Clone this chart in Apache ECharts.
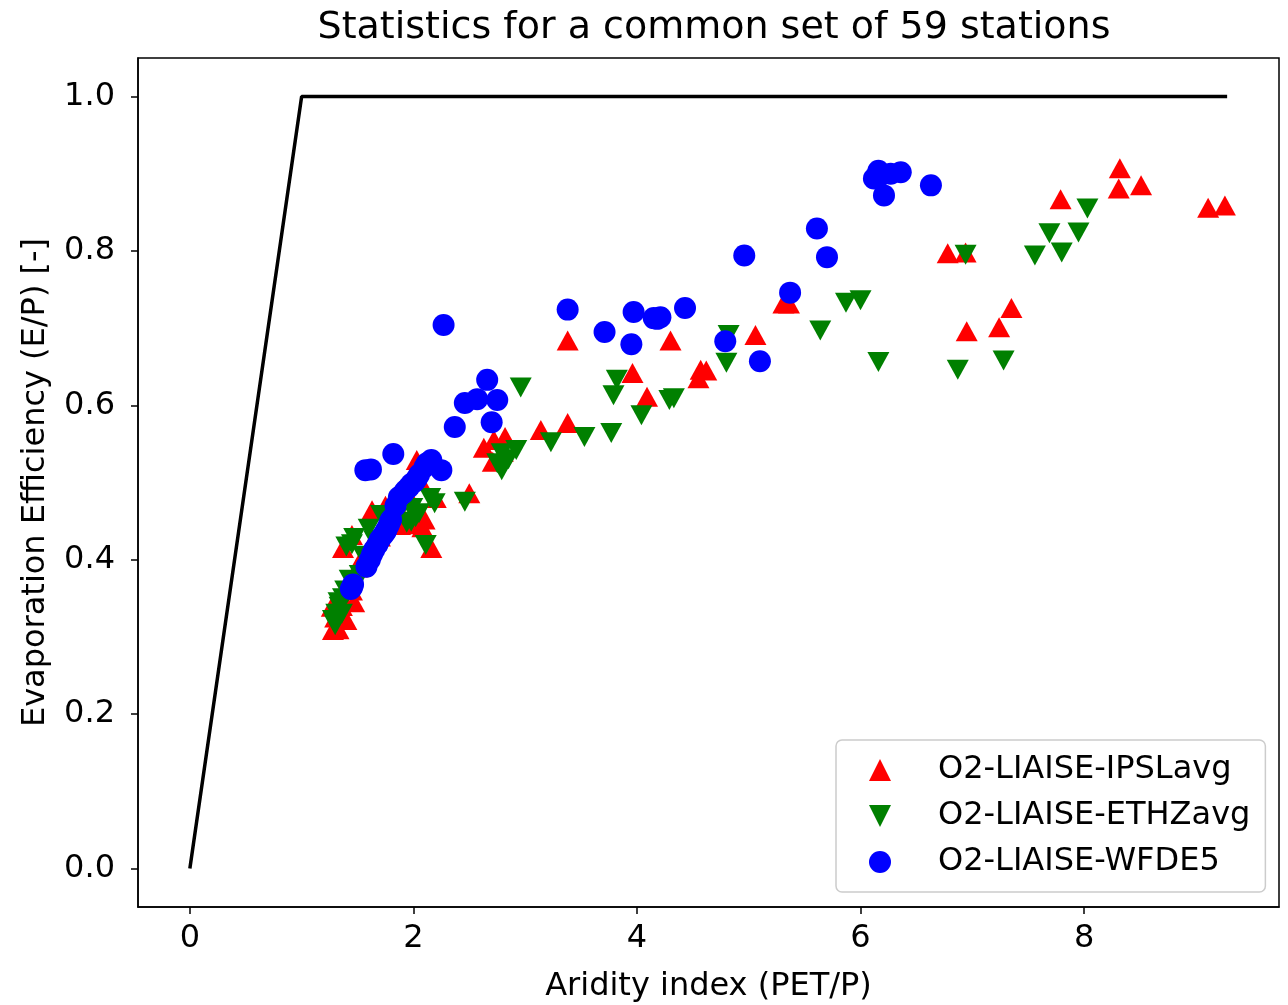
<!DOCTYPE html>
<html>
<head>
<meta charset="utf-8">
<script src="https://cdn.jsdelivr.net/npm/echarts@6/dist/echarts.min.js"></script>
<style>html,body{margin:0;padding:0;background:#fff}#c{width:1288px;height:1005px}</style>
</head>
<body>
<div id="c"></div>
<script>
const titleText = 'Statistics for a common set of 59 stations';
const xName = 'Aridity index (PET/P)';
const yName = 'Evaporation Efficiency (E/P) [-]';
const seriesNames = ['O2-LIAISE-IPSLavg', 'O2-LIAISE-ETHZavg', 'O2-LIAISE-WFDE5'];
const xTicks = [0, 2, 4, 6, 8];
const yTicks = [0, 0.2, 0.4, 0.6, 0.8, 1.0];
const limitLine = [[0, 0], [1, 1], [9.28, 1]];

const ipsl = [
  [9.26,0.859],[9.11,0.856],[8.32,0.907],[8.31,0.881],[8.51,0.885],[7.79,0.867],
  [6.78,0.797],[6.94,0.798],[6.95,0.696],[7.24,0.701],[7.35,0.726],[5.31,0.732],
  [5.36,0.732],[5.06,0.691],[4.62,0.645],[4.55,0.635],[4.30,0.684],[3.38,0.684],
  [3.96,0.642],[4.09,0.611],[3.38,0.577],[3.14,0.568],[2.63,0.545],[2.72,0.555],
  [2.82,0.559],[2.71,0.527],[2.50,0.486],[2.20,0.480],[2.03,0.529],[1.63,0.464],
  [2.08,0.442],[2.16,0.415],[1.84,0.473],[1.79,0.452],[1.45,0.432],[1.37,0.415],
  [1.27,0.339],[1.28,0.309],[1.40,0.322],[1.47,0.345],[1.33,0.310],[1.35,0.355],
  [1.42,0.370],[1.97,0.446],[1.88,0.445],[2.00,0.455],[1.70,0.430],[1.55,0.405],
  [1.60,0.415],[2.10,0.452],[1.75,0.470],[1.93,0.490],[2.05,0.505],[1.36,0.340],
  [1.30,0.325],[1.45,0.360],[4.57,0.646],[2.80,0.540],[1.50,0.390]
];
const ethz = [
  [6.94,0.795],[7.56,0.794],[7.69,0.823],[7.80,0.798],[7.95,0.824],[8.03,0.855],
  [6.87,0.646],[7.28,0.658],[5.64,0.697],[5.87,0.733],[6.00,0.736],[6.16,0.656],
  [4.80,0.655],[4.82,0.691],[3.82,0.633],[3.79,0.613],[4.04,0.587],[4.29,0.607],
  [4.33,0.609],[3.53,0.559],[3.77,0.564],[3.23,0.552],[2.96,0.623],[2.79,0.538],
  [2.92,0.542],[2.79,0.516],[2.46,0.475],[2.19,0.473],[1.99,0.467],[1.98,0.449],
  [2.02,0.455],[2.11,0.419],[1.71,0.458],[1.47,0.428],[1.40,0.417],[1.43,0.374],
  [1.41,0.357],[1.34,0.339],[1.28,0.322],[1.31,0.330],[1.49,0.370],[1.94,0.448],
  [1.37,0.350],[1.30,0.315],[1.52,0.380],[1.75,0.450],[1.85,0.455],[2.85,0.530],
  [2.75,0.525],[1.45,0.420],[1.60,0.440],[1.36,0.330],[1.80,0.448],[2.05,0.460],
  [1.65,0.425],[1.55,0.405],[1.33,0.345],[1.39,0.360],[2.15,0.480]
];
const wfde5 = [
  [6.16,0.904],[6.12,0.894],[6.27,0.900],[6.36,0.902],[6.21,0.872],[6.63,0.885],
  [5.61,0.829],[5.70,0.792],[4.96,0.794],[5.37,0.746],[4.79,0.683],[5.10,0.657],
  [3.38,0.724],[3.71,0.695],[3.97,0.721],[3.95,0.679],[4.15,0.713],[4.21,0.714],
  [4.43,0.726],[2.27,0.704],[2.66,0.633],[2.46,0.603],[2.57,0.608],[2.75,0.607],
  [2.70,0.578],[2.37,0.572],[1.57,0.516],[1.62,0.517],[1.82,0.537],[2.16,0.529],
  [2.25,0.516],[2.10,0.520],[2.05,0.510],[2.01,0.501],[1.96,0.494],[1.91,0.486],
  [1.87,0.481],[1.80,0.452],[1.78,0.445],[1.76,0.439],[1.73,0.432],[1.70,0.426],
  [1.65,0.413],[1.61,0.400],[1.58,0.391],[1.45,0.364],[1.46,0.368],[2.12,0.525],
  [1.98,0.498],[1.84,0.470],[1.68,0.420],[1.63,0.407],[1.79,0.449],[2.03,0.505],
  [1.93,0.490],[4.18,0.712],[6.18,0.898],[1.44,0.362],[1.75,0.436]
];

const FONT = 'DejaVu Sans';
const UP = 'path://M1,0 L2,2 L0,2 Z';
const DOWN = 'path://M0,0 L2,0 L1,2 Z';
const chart = echarts.init(document.getElementById('c'), null, {renderer: 'canvas'});
chart.setOption({
  animation: false,
  backgroundColor: '#fff',
  textStyle: {fontFamily: FONT},
  title: {
    text: titleText, left: 709, textAlign: 'center', top: 4,
    textStyle: {fontFamily: FONT, fontSize: 38, fontWeight: 'normal', color: '#000'}
  },
  grid: {left: 138, top: 58, width: 1141, height: 849, show: true, borderColor: '#000', borderWidth: 1.5, containLabel: false, outerBoundsMode: 'none'},
  xAxis: {
    type: 'value', min: -0.464, max: 9.744,
    name: xName, nameLocation: 'middle', nameGap: 64,
    nameTextStyle: {fontFamily: FONT, fontSize: 32, color: '#000'},
    axisLine: {show: true, onZero: false, lineStyle: {color: '#000', width: 1.5}},
    axisTick: {show: true, length: 7, lineStyle: {color: '#000', width: 1.5}, customValues: xTicks},
    axisLabel: {fontFamily: FONT, fontSize: 32, color: '#000', margin: 16, customValues: xTicks, formatter: v => String(Math.round(v))},
    splitLine: {show: false}
  },
  yAxis: {
    type: 'value', min: -0.05, max: 1.05,
    name: yName, nameLocation: 'middle', nameGap: 86,
    nameTextStyle: {fontFamily: FONT, fontSize: 32, color: '#000'},
    axisLine: {show: true, onZero: false, lineStyle: {color: '#000', width: 1.5}},
    axisTick: {show: true, length: 7, lineStyle: {color: '#000', width: 1.5}, customValues: yTicks},
    axisLabel: {fontFamily: FONT, fontSize: 32, color: '#000', margin: 23, customValues: yTicks, formatter: v => v.toFixed(1)},
    splitLine: {show: false}
  },
  legend: {
    data: [
      {name: seriesNames[0], icon: UP},
      {name: seriesNames[1], icon: DOWN},
      {name: seriesNames[2], icon: 'circle'}
    ],
    orient: 'vertical', left: 836, top: 740,
    padding: [14, 15, 14, 33], itemGap: 14, itemWidth: 22, itemHeight: 22,
    backgroundColor: 'rgba(255,255,255,0.9)', borderColor: '#cccccc', borderWidth: 1.5, borderRadius: 6,
    textStyle: {fontFamily: FONT, fontSize: 32, color: '#000', lineHeight: 32, padding: [0, 0, 0, 42]}
  },
  series: [
    {type: 'line', name: 'limit', data: limitLine, showSymbol: false, symbol: 'none', lineStyle: {color: '#000', width: 3.5}, z: 1, silent: true},
    {type: 'scatter', name: seriesNames[0], data: ipsl, symbol: 'triangle', symbolSize: [22, 20], itemStyle: {color: '#ff0000', opacity: 1}, z: 2},
    {type: 'scatter', name: seriesNames[1], data: ethz, symbol: 'triangle', symbolRotate: 180, symbolSize: [22, 20], itemStyle: {color: '#008000', opacity: 1}, z: 3},
    {type: 'scatter', name: seriesNames[2], data: wfde5, symbol: 'circle', symbolSize: 22, itemStyle: {color: '#0000ff', opacity: 1}, z: 4}
  ]
});
</script>
</body>
</html>
